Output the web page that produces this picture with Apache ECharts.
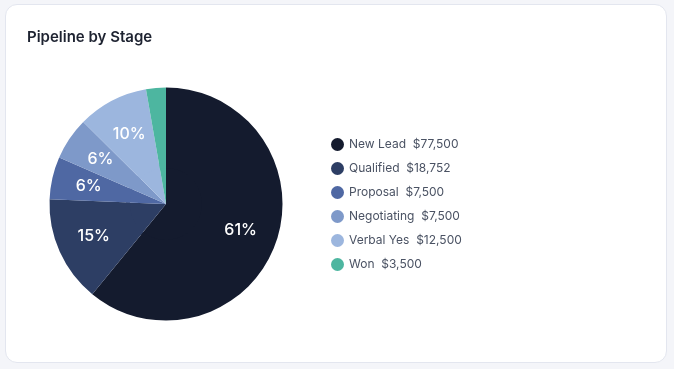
<!DOCTYPE html>
<html><head><meta charset="utf-8">
<script src="https://cdn.jsdelivr.net/npm/echarts@6/dist/echarts.min.js"></script>
<style>
html,body{margin:0;padding:0;width:674px;height:369px;background:#f4f5f9;overflow:hidden;}
#card{position:absolute;left:5px;top:4px;width:660px;height:357px;background:#fff;border:1px solid #e3e6ef;border-radius:12px;}
#chart{position:absolute;left:0;top:0;width:674px;height:369px;}
</style></head>
<body><div id="card"></div><div id="chart"></div>
<script>
const categories = ['New Lead','Qualified','Proposal','Negotiating','Verbal Yes','Won'];
const values = [77500, 18752, 7500, 7500, 12500, 3500];
const colors = ['#141b2e','#2d3e64','#4f68a3','#7e99c9','#9cb6de','#4db6a0'];
const fontFamily = 'Inter, "Noto Sans", sans-serif';
const total = values.reduce((a,b)=>a+b,0);
const data = categories.map((n,i)=>({name:n,value:values[i],itemStyle:{color:colors[i]}}));
const fmt = v => '$' + v.toLocaleString('en-US');
const chart = echarts.init(document.getElementById('chart'), null, {renderer:'canvas'});
chart.setOption({
  animation:false,
  title:{text:'Pipeline by Stage',left:27,top:30,padding:0,textStyle:{fontFamily,fontSize:15,fontWeight:600,color:'#1e2331'}},
  legend:{
    orient:'vertical',left:326,top:133,itemWidth:13,itemHeight:13,itemGap:11,icon:'circle',
    formatter:name=>name+'  '+fmt(values[categories.indexOf(name)]),
    textStyle:{fontFamily,fontSize:12,color:'#4a5263'}
  },
  series:[
    {type:'pie',radius:[0,40],center:[166,204],startAngle:90,clockwise:true,silent:true,
     label:{show:false},labelLine:{show:false},data:data,z:1},
    {type:'pie',radius:[36,116.5],center:[166,204],startAngle:90,clockwise:true,
     label:{show:true,position:'inside',color:'#fff',fontFamily,fontSize:16,fontWeight:500,
       formatter:p=>{const pc=p.value/total*100; return pc<5?'':Math.round(pc)+'%';}},
     labelLine:{show:false},data:data,z:2}
  ]
});
</script></body></html>
